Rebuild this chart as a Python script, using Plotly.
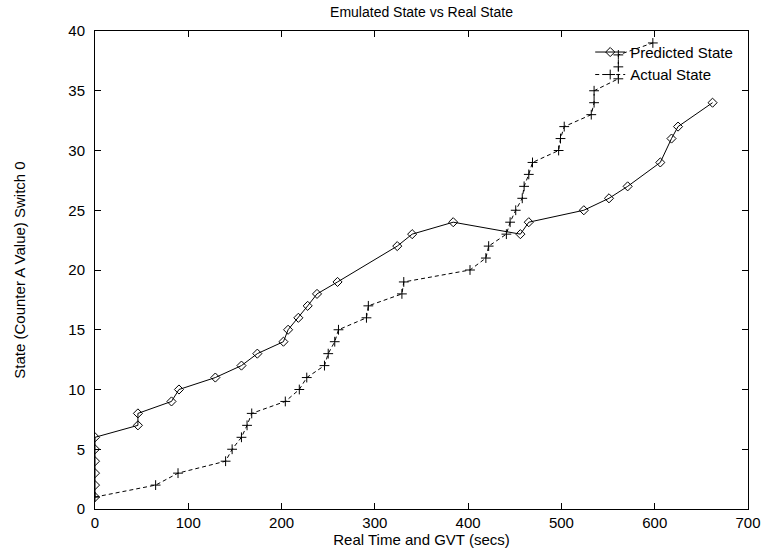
import plotly.graph_objects as go

# Predicted (emulated) state series
pred_x = [0, 0, 0, 0, 0, 0, 46, 46, 82, 90, 129, 157, 174, 202, 207, 218, 228, 238, 260,
          324, 340, 384, 456, 465, 524, 551, 571, 606, 618, 625, 662]
pred_y = [1, 2, 3, 4, 5, 6, 7, 8, 9, 10, 11, 12, 13, 14, 15, 16, 17, 18, 19,
          22, 23, 24, 23, 24, 25, 26, 27, 29, 31, 32, 34]

# Actual state series
act_x = [0, 65, 89, 140, 147, 157, 163, 168, 204, 219, 227, 246, 250, 257, 261, 291, 293,
         329, 331, 402, 419, 422, 441, 445, 451, 458, 460, 465, 469, 497, 499, 503, 532,
         535, 535, 561, 561, 561, 598]
act_y = list(range(1, 40))

x_ticks = [0, 100, 200, 300, 400, 500, 600, 700]
y_ticks = [0, 5, 10, 15, 20, 25, 30, 35, 40]

FONT = "Liberation Sans, Arial, Helvetica, sans-serif"

fig = go.Figure()
fig.add_trace(go.Scatter(
    x=pred_x, y=pred_y, mode="lines+markers", name="Predicted State",
    line=dict(color="black", width=1),
    marker=dict(symbol="diamond-open", size=7, color="black", line=dict(width=1, color="black")),
))
fig.add_trace(go.Scatter(
    x=act_x, y=act_y, mode="lines+markers", name="Actual State",
    line=dict(color="black", width=1, dash="4px,3px"),
    marker=dict(symbol="cross-thin-open", size=7, color="black", line=dict(width=1, color="black")),
))

axis_common = dict(
    showline=True, linecolor="black", linewidth=1, mirror="allticks",
    ticks="inside", ticklen=6, tickwidth=1, tickcolor="black",
    showgrid=False, zeroline=False, automargin=False,
    tickfont=dict(family=FONT, size=15, color="black"),
)

fig.update_layout(
    width=765, height=552,
    margin=dict(l=95, r=17, t=31, b=43, autoexpand=False),
    paper_bgcolor="white", plot_bgcolor="white",
    title=dict(text="Emulated State vs Real State", x=0.551, xanchor="center",
               yref="container", y=1 - 12 / 552, yanchor="middle", automargin=False,
               font=dict(family=FONT, size=14, color="black")),
    xaxis=dict(range=[0, 700], tickvals=x_ticks,
               title=dict(text="Real Time and GVT (secs)", standoff=0,
                          font=dict(family=FONT, size=15, color="black")),
               **axis_common),
    yaxis=dict(range=[0, 40], tickvals=y_ticks, ticklabelstandoff=6,
               title=dict(text="State (Counter A Value) Switch 0", standoff=39,
                          font=dict(family=FONT, size=15, color="black")),
               **axis_common),
    legend=dict(x=0.985, y=0.99, xanchor="right", yanchor="top",
                bgcolor="rgba(0,0,0,0)", borderwidth=0,
                font=dict(family=FONT, size=15, color="black"),
                tracegroupgap=0, itemwidth=30),
    showlegend=True,
)

fig.write_html("out.html", config={"displayModeBar": False},
               post_script="document.body.style.margin='0';")
